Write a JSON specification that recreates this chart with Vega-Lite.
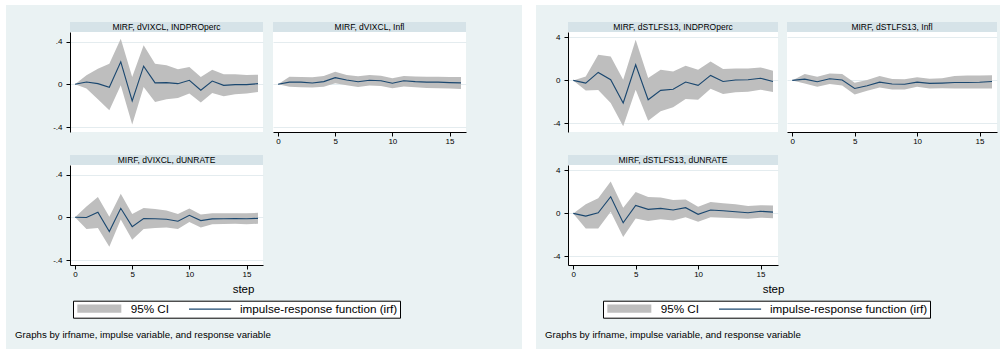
{
  "$schema": "https://vega.github.io/schema/vega-lite/v6.json",
  "background": "#EAF2F3",
  "padding": 0,
  "columns": 13,
  "spacing": 0,
  "bounds": "flush",
  "align": "each",
  "resolve": {"scale": {"fill": "independent", "stroke": "independent"}, "legend": {"fill": "independent", "stroke": "independent"}},
  "config": {
    "view": {"stroke": null},
    "font": "Liberation Sans",
    "axis": {"labelFont": "Liberation Sans", "titleFont": "Liberation Sans"},
    "legend": {"labelFont": "Liberation Sans", "titleFont": "Liberation Sans"},
    "title": {"font": "Liberation Sans"}
  },
  "datasets": {
    "vixIndpro": [
      {"step": 0, "irf": 0, "lo": 0, "hi": 0},
      {"step": 1, "irf": 0.022, "lo": -0.04, "hi": 0.084},
      {"step": 2, "irf": 0.006, "lo": -0.14, "hi": 0.146},
      {"step": 3, "irf": -0.028, "lo": -0.243, "hi": 0.193},
      {"step": 4, "irf": 0.21, "lo": -0.01, "hi": 0.426},
      {"step": 5, "irf": -0.156, "lo": -0.377, "hi": 0.068},
      {"step": 6, "irf": 0.17, "lo": -0.025, "hi": 0.364},
      {"step": 7, "irf": 0.013, "lo": -0.165, "hi": 0.193},
      {"step": 8, "irf": 0.016, "lo": -0.14, "hi": 0.177},
      {"step": 9, "irf": 0.006, "lo": -0.128, "hi": 0.14},
      {"step": 10, "irf": 0.037, "lo": -0.087, "hi": 0.162},
      {"step": 11, "irf": -0.056, "lo": -0.171, "hi": 0.068},
      {"step": 12, "irf": 0.03, "lo": -0.081, "hi": 0.137},
      {"step": 13, "irf": -0.01, "lo": -0.112, "hi": 0.093},
      {"step": 14, "irf": -0.003, "lo": -0.093, "hi": 0.093},
      {"step": 15, "irf": -0.003, "lo": -0.087, "hi": 0.087},
      {"step": 16, "irf": 0.006, "lo": -0.072, "hi": 0.09}
    ],
    "vixInfl": [
      {"step": 0, "irf": 0, "lo": 0, "hi": 0},
      {"step": 1, "irf": 0.02, "lo": -0.022, "hi": 0.07},
      {"step": 2, "irf": 0.02, "lo": -0.027, "hi": 0.068},
      {"step": 3, "irf": 0.012, "lo": -0.03, "hi": 0.065},
      {"step": 4, "irf": 0.025, "lo": -0.024, "hi": 0.077},
      {"step": 5, "irf": 0.062, "lo": 0.01, "hi": 0.118},
      {"step": 6, "irf": 0.04, "lo": -0.01, "hi": 0.088},
      {"step": 7, "irf": 0.024, "lo": -0.025, "hi": 0.076},
      {"step": 8, "irf": 0.038, "lo": -0.012, "hi": 0.088},
      {"step": 9, "irf": 0.033, "lo": -0.016, "hi": 0.08},
      {"step": 10, "irf": 0.01, "lo": -0.036, "hi": 0.056},
      {"step": 11, "irf": 0.033, "lo": -0.02, "hi": 0.077},
      {"step": 12, "irf": 0.025, "lo": -0.028, "hi": 0.072},
      {"step": 13, "irf": 0.02, "lo": -0.034, "hi": 0.07},
      {"step": 14, "irf": 0.02, "lo": -0.036, "hi": 0.07},
      {"step": 15, "irf": 0.016, "lo": -0.04, "hi": 0.068},
      {"step": 16, "irf": 0.013, "lo": -0.045, "hi": 0.068}
    ],
    "vixUnrate": [
      {"step": 0, "irf": 0, "lo": 0, "hi": 0},
      {"step": 1, "irf": -0.002, "lo": -0.11, "hi": 0.1},
      {"step": 2, "irf": 0.047, "lo": -0.1, "hi": 0.19},
      {"step": 3, "irf": -0.133, "lo": -0.275, "hi": 0.005},
      {"step": 4, "irf": 0.084, "lo": -0.02, "hi": 0.22},
      {"step": 5, "irf": -0.087, "lo": -0.21, "hi": 0.03},
      {"step": 6, "irf": -0.012, "lo": -0.11, "hi": 0.087},
      {"step": 7, "irf": -0.014, "lo": -0.1, "hi": 0.077},
      {"step": 8, "irf": -0.018, "lo": -0.095, "hi": 0.063},
      {"step": 9, "irf": -0.037, "lo": -0.11, "hi": 0.03},
      {"step": 10, "irf": 0.019, "lo": -0.045, "hi": 0.083},
      {"step": 11, "irf": -0.031, "lo": -0.095, "hi": 0.027},
      {"step": 12, "irf": -0.015, "lo": -0.065, "hi": 0.037},
      {"step": 13, "irf": -0.014, "lo": -0.062, "hi": 0.037},
      {"step": 14, "irf": -0.011, "lo": -0.06, "hi": 0.037},
      {"step": 15, "irf": -0.013, "lo": -0.065, "hi": 0.037},
      {"step": 16, "irf": -0.01, "lo": -0.06, "hi": 0.042}
    ],
    "stlIndpro": [
      {"step": 0, "irf": 0, "lo": 0, "hi": 0},
      {"step": 1, "irf": -0.25, "lo": -0.93, "hi": 0.37},
      {"step": 2, "irf": 0.74, "lo": -0.9, "hi": 2.38},
      {"step": 3, "irf": 0.06, "lo": -2.1, "hi": 2.22},
      {"step": 4, "irf": -2.1, "lo": -4.26, "hi": 0.06},
      {"step": 5, "irf": 1.45, "lo": -0.86, "hi": 3.77},
      {"step": 6, "irf": -1.8, "lo": -3.74, "hi": 0.22},
      {"step": 7, "irf": -0.93, "lo": -2.87, "hi": 0.99},
      {"step": 8, "irf": -0.83, "lo": -2.5, "hi": 0.83},
      {"step": 9, "irf": -0.15, "lo": -1.73, "hi": 1.36},
      {"step": 10, "irf": -0.46, "lo": -1.8, "hi": 0.99},
      {"step": 11, "irf": 0.46, "lo": -0.77, "hi": 1.76},
      {"step": 12, "irf": -0.1, "lo": -1.27, "hi": 1.05},
      {"step": 13, "irf": 0.03, "lo": -1.1, "hi": 1.1},
      {"step": 14, "irf": 0.06, "lo": -1.05, "hi": 1.1},
      {"step": 15, "irf": 0.2, "lo": -0.86, "hi": 1.2},
      {"step": 16, "irf": -0.1, "lo": -1.08, "hi": 0.9}
    ],
    "stlInfl": [
      {"step": 0, "irf": 0, "lo": 0, "hi": 0},
      {"step": 1, "irf": 0.12, "lo": -0.28, "hi": 0.6},
      {"step": 2, "irf": -0.12, "lo": -0.6, "hi": 0.34},
      {"step": 3, "irf": 0.15, "lo": -0.34, "hi": 0.65},
      {"step": 4, "irf": 0.03, "lo": -0.47, "hi": 0.6},
      {"step": 5, "irf": -0.75, "lo": -1.3, "hi": -0.22},
      {"step": 6, "irf": -0.5, "lo": -0.97, "hi": 0.03},
      {"step": 7, "irf": -0.16, "lo": -0.66, "hi": 0.4},
      {"step": 8, "irf": -0.34, "lo": -0.84, "hi": 0.12},
      {"step": 9, "irf": -0.36, "lo": -0.84, "hi": 0.1},
      {"step": 10, "irf": -0.16, "lo": -0.6, "hi": 0.28},
      {"step": 11, "irf": -0.28, "lo": -0.75, "hi": 0.15},
      {"step": 12, "irf": -0.25, "lo": -0.72, "hi": 0.2},
      {"step": 13, "irf": -0.2, "lo": -0.75, "hi": 0.4},
      {"step": 14, "irf": -0.2, "lo": -0.75, "hi": 0.45},
      {"step": 15, "irf": -0.18, "lo": -0.75, "hi": 0.45},
      {"step": 16, "irf": -0.1, "lo": -0.75, "hi": 0.47}
    ],
    "stlUnrate": [
      {"step": 0, "irf": 0, "lo": 0, "hi": 0},
      {"step": 1, "irf": -0.25, "lo": -1.4, "hi": 0.84},
      {"step": 2, "irf": 0.06, "lo": -1.4, "hi": 1.4},
      {"step": 3, "irf": 1.55, "lo": 0.15, "hi": 2.95},
      {"step": 4, "irf": -0.87, "lo": -2.2, "hi": 0.53},
      {"step": 5, "irf": 0.74, "lo": -0.47, "hi": 1.98},
      {"step": 6, "irf": 0.37, "lo": -0.71, "hi": 1.52},
      {"step": 7, "irf": 0.46, "lo": -0.55, "hi": 1.48},
      {"step": 8, "irf": 0.31, "lo": -0.65, "hi": 1.24},
      {"step": 9, "irf": 0.53, "lo": -0.35, "hi": 1.3},
      {"step": 10, "irf": -0.09, "lo": -0.78, "hi": 0.62},
      {"step": 11, "irf": 0.31, "lo": -0.37, "hi": 1.05},
      {"step": 12, "irf": 0.25, "lo": -0.4, "hi": 0.95},
      {"step": 13, "irf": 0.15, "lo": -0.45, "hi": 0.85},
      {"step": 14, "irf": 0.06, "lo": -0.5, "hi": 0.68},
      {"step": 15, "irf": 0.2, "lo": -0.4, "hi": 0.75},
      {"step": 16, "irf": 0.12, "lo": -0.45, "hi": 0.74}
    ]
  },
  "concat": [
    {"width": 6, "height": 5, "data": {"values": []}, "mark": "point", "view": {"fill": "#FFFFFF"}},
    {"width": 64, "height": 5, "data": {"values": []}, "mark": "point", "view": {"fill": "#FFFFFF"}},
    {"width": 193, "height": 5, "data": {"values": []}, "mark": "point", "view": {"fill": "#FFFFFF"}},
    {"width": 10, "height": 5, "data": {"values": []}, "mark": "point", "view": {"fill": "#FFFFFF"}},
    {"width": 193, "height": 5, "data": {"values": []}, "mark": "point", "view": {"fill": "#FFFFFF"}},
    {"width": 56, "height": 5, "data": {"values": []}, "mark": "point", "view": {"fill": "#FFFFFF"}},
    {"width": 14, "height": 5, "data": {"values": []}, "mark": "point", "view": {"fill": "#FFFFFF"}},
    {"width": 32, "height": 5, "data": {"values": []}, "mark": "point", "view": {"fill": "#FFFFFF"}},
    {"width": 210, "height": 5, "data": {"values": []}, "mark": "point", "view": {"fill": "#FFFFFF"}},
    {"width": 9, "height": 5, "data": {"values": []}, "mark": "point", "view": {"fill": "#FFFFFF"}},
    {"width": 210, "height": 5, "data": {"values": []}, "mark": "point", "view": {"fill": "#FFFFFF"}},
    {"width": 3, "height": 5, "data": {"values": []}, "mark": "point", "view": {"fill": "#FFFFFF"}},
    {"width": 4, "height": 5, "data": {"values": []}, "mark": "point", "view": {"fill": "#FFFFFF"}},

    {"width": 6, "height": 17, "data": {"values": []}, "mark": "point", "view": {"fill": "#FFFFFF"}},
    {"width": 64, "height": 17, "data": {"values": []}, "mark": "point"},
    {"width": 193, "height": 17, "data": {"values": []}, "mark": "point"},
    {"width": 10, "height": 17, "data": {"values": []}, "mark": "point"},
    {"width": 193, "height": 17, "data": {"values": []}, "mark": "point"},
    {"width": 56, "height": 17, "data": {"values": []}, "mark": "point"},
    {"width": 14, "height": 17, "data": {"values": []}, "mark": "point", "view": {"fill": "#FFFFFF"}},
    {"width": 32, "height": 17, "data": {"values": []}, "mark": "point"},
    {"width": 210, "height": 17, "data": {"values": []}, "mark": "point"},
    {"width": 9, "height": 17, "data": {"values": []}, "mark": "point"},
    {"width": 210, "height": 17, "data": {"values": []}, "mark": "point"},
    {"width": 3, "height": 17, "data": {"values": []}, "mark": "point"},
    {"width": 4, "height": 17, "data": {"values": []}, "mark": "point", "view": {"fill": "#FFFFFF"}},

    {"width": 6, "height": 10, "data": {"values": []}, "mark": "point", "view": {"fill": "#FFFFFF"}},
    {"width": 64, "height": 10, "data": {"values": []}, "mark": "point"},
    {"width": 193, "height": 10, "view": {"fill": "#D6E3E8"}, "data": {"values": [{"label": "MIRF, dVIXCL, INDPROperc"}]}, "mark": {"type": "text", "font": "Liberation Sans", "fontSize": 8.5, "color": "#000000", "baseline": "middle", "align": "center"}, "encoding": {"text": {"field": "label", "type": "nominal"}}},
    {"width": 10, "height": 10, "data": {"values": []}, "mark": "point"},
    {"width": 193, "height": 10, "view": {"fill": "#D6E3E8"}, "data": {"values": [{"label": "MIRF, dVIXCL, Infl"}]}, "mark": {"type": "text", "font": "Liberation Sans", "fontSize": 8.5, "color": "#000000", "baseline": "middle", "align": "center"}, "encoding": {"text": {"field": "label", "type": "nominal"}}},
    {"width": 56, "height": 10, "data": {"values": []}, "mark": "point"},
    {"width": 14, "height": 10, "data": {"values": []}, "mark": "point", "view": {"fill": "#FFFFFF"}},
    {"width": 32, "height": 10, "data": {"values": []}, "mark": "point"},
    {"width": 210, "height": 10, "view": {"fill": "#D6E3E8"}, "data": {"values": [{"label": "MIRF, dSTLFS13, INDPROperc"}]}, "mark": {"type": "text", "font": "Liberation Sans", "fontSize": 8.5, "color": "#000000", "baseline": "middle", "align": "center"}, "encoding": {"text": {"field": "label", "type": "nominal"}}},
    {"width": 9, "height": 10, "data": {"values": []}, "mark": "point"},
    {"width": 210, "height": 10, "view": {"fill": "#D6E3E8"}, "data": {"values": [{"label": "MIRF, dSTLFS13, Infl"}]}, "mark": {"type": "text", "font": "Liberation Sans", "fontSize": 8.5, "color": "#000000", "baseline": "middle", "align": "center"}, "encoding": {"text": {"field": "label", "type": "nominal"}}},
    {"width": 3, "height": 10, "data": {"values": []}, "mark": "point"},
    {"width": 4, "height": 10, "data": {"values": []}, "mark": "point", "view": {"fill": "#FFFFFF"}},

    {"width": 6, "height": 100, "data": {"values": []}, "mark": "point", "view": {"fill": "#FFFFFF"}},
    {"width": 64, "height": 100, "data": {"values": []}, "mark": "point"},
    {
      "width": 193, "height": 100, "view": {"fill": "#FFFFFF"},
      "data": {"name": "vixIndpro"},
      "encoding": {"x": {"field": "step", "type": "quantitative", "scale": {"domain": [-0.44, 16.44], "nice": false, "zero": false}, "axis": null}},
      "layer": [
        {"mark": {"type": "area", "opacity": 1},
         "encoding": {
           "y": {"field": "lo", "type": "quantitative", "scale": {"domain": [-0.446, 0.489], "nice": false, "zero": false},
                 "axis": {"title": null, "values": [-0.4, -0.2, 0, 0.2, 0.4], "labelExpr": "datum.value == 0 ? '0' : (datum.value < 0 ? '-' : '') + '.' + toString(round(abs(datum.value) * 10))", "grid": true, "gridColor": "#E4ECEF", "domainColor": "#000000", "tickColor": "#000000", "tickSize": 4, "labelFontSize": 8, "labelColor": "#000000", "labelPadding": 4, "labelFlush": false}},
           "y2": {"field": "hi"},
           "fill": {"datum": "95% CI", "type": "nominal", "scale": {"domain": ["95% CI"], "range": ["#BEBEBE"]}, "legend": null}}},
        {"mark": {"type": "line", "strokeWidth": 1.1},
         "encoding": {"y": {"field": "irf", "type": "quantitative"}, "stroke": {"datum": "impulse-response function (irf)", "type": "nominal", "scale": {"domain": ["impulse-response function (irf)"], "range": ["#1A476F"]}, "legend": null}}}
      ]
    },
    {"width": 10, "height": 100, "data": {"values": []}, "mark": "point"},
    {
      "width": 193, "height": 100, "view": {"fill": "#FFFFFF"},
      "data": {"name": "vixInfl"},
      "encoding": {"x": {"field": "step", "type": "quantitative", "scale": {"domain": [-0.44, 16.44], "nice": false, "zero": false},
                         "axis": {"title": null, "values": [0, 5, 10, 15], "format": "d", "grid": false, "domainColor": "#000000", "tickColor": "#000000", "tickSize": 4, "labelFontSize": 8, "labelColor": "#000000", "labelPadding": 1, "labelFlush": false}}},
      "layer": [
        {"mark": {"type": "area", "opacity": 1},
         "encoding": {
           "y": {"field": "lo", "type": "quantitative", "scale": {"domain": [-0.446, 0.489], "nice": false, "zero": false},
                 "axis": {"title": null, "values": [-0.4, -0.2, 0, 0.2, 0.4], "grid": true, "gridColor": "#E4ECEF", "labels": false, "ticks": false, "domain": false}},
           "y2": {"field": "hi"},
           "fill": {"datum": "95% CI", "type": "nominal", "scale": {"domain": ["95% CI"], "range": ["#BEBEBE"]}, "legend": null}}},
        {"mark": {"type": "line", "strokeWidth": 1.1},
         "encoding": {"y": {"field": "irf", "type": "quantitative"}, "stroke": {"datum": "impulse-response function (irf)", "type": "nominal", "scale": {"domain": ["impulse-response function (irf)"], "range": ["#1A476F"]}, "legend": null}}}
      ]
    },
    {"width": 56, "height": 100, "data": {"values": []}, "mark": "point"},
    {"width": 14, "height": 100, "data": {"values": []}, "mark": "point", "view": {"fill": "#FFFFFF"}},
    {"width": 32, "height": 100, "data": {"values": []}, "mark": "point"},
    {
      "width": 210, "height": 100, "view": {"fill": "#FFFFFF"},
      "data": {"name": "stlIndpro"},
      "encoding": {"x": {"field": "step", "type": "quantitative", "scale": {"domain": [-0.42, 16.4], "nice": false, "zero": false}, "axis": null}},
      "layer": [
        {"mark": {"type": "area", "opacity": 1},
         "encoding": {
           "y": {"field": "lo", "type": "quantitative", "scale": {"domain": [-4.79, 4.49], "nice": false, "zero": false},
                 "axis": {"title": null, "values": [-4, -2, 0, 2, 4], "labelExpr": "(datum.value < 0 ? '-' : '') + toString(abs(datum.value))", "grid": true, "gridColor": "#E4ECEF", "domainColor": "#000000", "tickColor": "#000000", "tickSize": 4, "labelFontSize": 8, "labelColor": "#000000", "labelPadding": 4, "labelFlush": false}},
           "y2": {"field": "hi"},
           "fill": {"datum": "95% CI", "type": "nominal", "scale": {"domain": ["95% CI"], "range": ["#BEBEBE"]}, "legend": null}}},
        {"mark": {"type": "line", "strokeWidth": 1.1},
         "encoding": {"y": {"field": "irf", "type": "quantitative"}, "stroke": {"datum": "impulse-response function (irf)", "type": "nominal", "scale": {"domain": ["impulse-response function (irf)"], "range": ["#1A476F"]}, "legend": null}}}
      ]
    },
    {"width": 9, "height": 100, "data": {"values": []}, "mark": "point"},
    {
      "width": 210, "height": 100, "view": {"fill": "#FFFFFF"},
      "data": {"name": "stlInfl"},
      "encoding": {"x": {"field": "step", "type": "quantitative", "scale": {"domain": [-0.42, 16.4], "nice": false, "zero": false},
                         "axis": {"title": null, "values": [0, 5, 10, 15], "format": "d", "grid": false, "domainColor": "#000000", "tickColor": "#000000", "tickSize": 4, "labelFontSize": 8, "labelColor": "#000000", "labelPadding": 1, "labelFlush": false}}},
      "layer": [
        {"mark": {"type": "area", "opacity": 1},
         "encoding": {
           "y": {"field": "lo", "type": "quantitative", "scale": {"domain": [-4.79, 4.49], "nice": false, "zero": false},
                 "axis": {"title": null, "values": [-4, -2, 0, 2, 4], "grid": true, "gridColor": "#E4ECEF", "labels": false, "ticks": false, "domain": false}},
           "y2": {"field": "hi"},
           "fill": {"datum": "95% CI", "type": "nominal", "scale": {"domain": ["95% CI"], "range": ["#BEBEBE"]}, "legend": null}}},
        {"mark": {"type": "line", "strokeWidth": 1.1},
         "encoding": {"y": {"field": "irf", "type": "quantitative"}, "stroke": {"datum": "impulse-response function (irf)", "type": "nominal", "scale": {"domain": ["impulse-response function (irf)"], "range": ["#1A476F"]}, "legend": null}}}
      ]
    },
    {"width": 3, "height": 100, "data": {"values": []}, "mark": "point"},
    {"width": 4, "height": 100, "data": {"values": []}, "mark": "point", "view": {"fill": "#FFFFFF"}},

    {"width": 6, "height": 23, "data": {"values": []}, "mark": "point", "view": {"fill": "#FFFFFF"}},
    {"width": 64, "height": 23, "data": {"values": []}, "mark": "point"},
    {"width": 193, "height": 23, "data": {"values": []}, "mark": "point"},
    {"width": 10, "height": 23, "data": {"values": []}, "mark": "point"},
    {"width": 193, "height": 23, "data": {"values": []}, "mark": "point"},
    {"width": 56, "height": 23, "data": {"values": []}, "mark": "point"},
    {"width": 14, "height": 23, "data": {"values": []}, "mark": "point", "view": {"fill": "#FFFFFF"}},
    {"width": 32, "height": 23, "data": {"values": []}, "mark": "point"},
    {"width": 210, "height": 23, "data": {"values": []}, "mark": "point"},
    {"width": 9, "height": 23, "data": {"values": []}, "mark": "point"},
    {"width": 210, "height": 23, "data": {"values": []}, "mark": "point"},
    {"width": 3, "height": 23, "data": {"values": []}, "mark": "point"},
    {"width": 4, "height": 23, "data": {"values": []}, "mark": "point", "view": {"fill": "#FFFFFF"}},

    {"width": 6, "height": 10, "data": {"values": []}, "mark": "point", "view": {"fill": "#FFFFFF"}},
    {"width": 64, "height": 10, "data": {"values": []}, "mark": "point"},
    {"width": 193, "height": 10, "view": {"fill": "#D6E3E8"}, "data": {"values": [{"label": "MIRF, dVIXCL, dUNRATE"}]}, "mark": {"type": "text", "font": "Liberation Sans", "fontSize": 8.5, "color": "#000000", "baseline": "middle", "align": "center"}, "encoding": {"text": {"field": "label", "type": "nominal"}}},
    {"width": 10, "height": 10, "data": {"values": []}, "mark": "point"},
    {"width": 193, "height": 10, "data": {"values": []}, "mark": "point"},
    {"width": 56, "height": 10, "data": {"values": []}, "mark": "point"},
    {"width": 14, "height": 10, "data": {"values": []}, "mark": "point", "view": {"fill": "#FFFFFF"}},
    {"width": 32, "height": 10, "data": {"values": []}, "mark": "point"},
    {"width": 210, "height": 10, "view": {"fill": "#D6E3E8"}, "data": {"values": [{"label": "MIRF, dSTLFS13, dUNRATE"}]}, "mark": {"type": "text", "font": "Liberation Sans", "fontSize": 8.5, "color": "#000000", "baseline": "middle", "align": "center"}, "encoding": {"text": {"field": "label", "type": "nominal"}}},
    {"width": 9, "height": 10, "data": {"values": []}, "mark": "point"},
    {"width": 210, "height": 10, "data": {"values": []}, "mark": "point"},
    {"width": 3, "height": 10, "data": {"values": []}, "mark": "point"},
    {"width": 4, "height": 10, "data": {"values": []}, "mark": "point", "view": {"fill": "#FFFFFF"}},

    {"width": 6, "height": 100, "data": {"values": []}, "mark": "point", "view": {"fill": "#FFFFFF"}},
    {"width": 64, "height": 100, "data": {"values": []}, "mark": "point"},
    {
      "width": 193, "height": 100, "view": {"fill": "#FFFFFF"},
      "data": {"name": "vixUnrate"},
      "encoding": {"x": {"field": "step", "type": "quantitative", "scale": {"domain": [-0.44, 16.44], "nice": false, "zero": false},
                         "axis": {"title": "step", "titleX": 173, "titleY": 24, "titleBaseline": "middle", "titleAlign": "center", "titleFontSize": 11.5, "titleFontWeight": "normal", "titleColor": "#000000",
                                  "values": [0, 5, 10, 15], "format": "d", "grid": false, "domainColor": "#000000", "tickColor": "#000000", "tickSize": 4, "labelFontSize": 8, "labelColor": "#000000", "labelPadding": 1, "labelFlush": false}}},
      "layer": [
        {"mark": {"type": "area", "opacity": 1},
         "encoding": {
           "y": {"field": "lo", "type": "quantitative", "scale": {"domain": [-0.446, 0.489], "nice": false, "zero": false},
                 "axis": {"title": null, "values": [-0.4, -0.2, 0, 0.2, 0.4], "labelExpr": "datum.value == 0 ? '0' : (datum.value < 0 ? '-' : '') + '.' + toString(round(abs(datum.value) * 10))", "grid": true, "gridColor": "#E4ECEF", "domainColor": "#000000", "tickColor": "#000000", "tickSize": 4, "labelFontSize": 8, "labelColor": "#000000", "labelPadding": 4, "labelFlush": false}},
           "y2": {"field": "hi"},
           "fill": {"datum": "95% CI", "type": "nominal", "scale": {"domain": ["95% CI"], "range": ["#BEBEBE"]},
                    "legend": {"orient": "none", "legendX": 3, "legendY": 135.7, "direction": "horizontal",
                               "title": "impulse-response function (irf)", "titleOrient": "right", "titlePadding": 71, "titleAnchor": "middle", "titleBaseline": "middle",
                               "titleFontSize": 11.7, "titleFontWeight": "normal", "titleColor": "#000000", "titleLimit": 400,
                               "strokeColor": "#000000", "fillColor": "#FFFFFF", "padding": 2, "cornerRadius": 0,
                               "symbolType": "M-0.64,-0.75H7.36V0.75H-0.64Z", "symbolSize": 121, "symbolStrokeWidth": 0, "symbolOpacity": 1,
                               "labelOffset": 44, "labelFontSize": 11.7, "labelColor": "#000000", "labelLimit": 400}}}},
        {"mark": {"type": "line", "strokeWidth": 1.1},
         "encoding": {"y": {"field": "irf", "type": "quantitative"},
                      "stroke": {"datum": "impulse-response function (irf)", "type": "nominal", "scale": {"domain": ["impulse-response function (irf)"], "range": ["#1A476F"]},
                                 "legend": {"orient": "none", "legendX": 115, "legendY": 137.7, "title": null, "padding": 0, "zindex": 1,
                                            "symbolType": "M-0.45,0H7.2", "symbolSize": 121, "symbolStrokeWidth": 1.2, "symbolOpacity": 1,
                                            "labelExpr": "''"}}}}
      ]
    },
    {"width": 10, "height": 100, "data": {"values": []}, "mark": "point"},
    {"width": 193, "height": 100, "data": {"values": []}, "mark": "point"},
    {"width": 56, "height": 100, "data": {"values": []}, "mark": "point"},
    {"width": 14, "height": 100, "data": {"values": []}, "mark": "point", "view": {"fill": "#FFFFFF"}},
    {"width": 32, "height": 100, "data": {"values": []}, "mark": "point"},
    {
      "width": 210, "height": 100, "view": {"fill": "#FFFFFF"},
      "data": {"name": "stlUnrate"},
      "encoding": {"x": {"field": "step", "type": "quantitative", "scale": {"domain": [-0.42, 16.4], "nice": false, "zero": false},
                         "axis": {"title": "step", "titleX": 205, "titleY": 24, "titleBaseline": "middle", "titleAlign": "center", "titleFontSize": 11.5, "titleFontWeight": "normal", "titleColor": "#000000",
                                  "values": [0, 5, 10, 15], "format": "d", "grid": false, "domainColor": "#000000", "tickColor": "#000000", "tickSize": 4, "labelFontSize": 8, "labelColor": "#000000", "labelPadding": 1, "labelFlush": false}}},
      "layer": [
        {"mark": {"type": "area", "opacity": 1},
         "encoding": {
           "y": {"field": "lo", "type": "quantitative", "scale": {"domain": [-4.79, 4.49], "nice": false, "zero": false},
                 "axis": {"title": null, "values": [-4, -2, 0, 2, 4], "labelExpr": "(datum.value < 0 ? '-' : '') + toString(abs(datum.value))", "grid": true, "gridColor": "#E4ECEF", "domainColor": "#000000", "tickColor": "#000000", "tickSize": 4, "labelFontSize": 8, "labelColor": "#000000", "labelPadding": 4, "labelFlush": false}},
           "y2": {"field": "hi"},
           "fill": {"datum": "95% CI", "type": "nominal", "scale": {"domain": ["95% CI"], "range": ["#BEBEBE"]},
                    "legend": {"orient": "none", "legendX": 35, "legendY": 135.7, "direction": "horizontal",
                               "title": "impulse-response function (irf)", "titleOrient": "right", "titlePadding": 71, "titleAnchor": "middle", "titleBaseline": "middle",
                               "titleFontSize": 11.7, "titleFontWeight": "normal", "titleColor": "#000000", "titleLimit": 400,
                               "strokeColor": "#000000", "fillColor": "#FFFFFF", "padding": 2, "cornerRadius": 0,
                               "symbolType": "M-0.64,-0.75H7.36V0.75H-0.64Z", "symbolSize": 121, "symbolStrokeWidth": 0, "symbolOpacity": 1,
                               "labelOffset": 44, "labelFontSize": 11.7, "labelColor": "#000000", "labelLimit": 400}}}},
        {"mark": {"type": "line", "strokeWidth": 1.1},
         "encoding": {"y": {"field": "irf", "type": "quantitative"},
                      "stroke": {"datum": "impulse-response function (irf)", "type": "nominal", "scale": {"domain": ["impulse-response function (irf)"], "range": ["#1A476F"]},
                                 "legend": {"orient": "none", "legendX": 147, "legendY": 137.7, "title": null, "padding": 0, "zindex": 1,
                                            "symbolType": "M-0.45,0H7.2", "symbolSize": 121, "symbolStrokeWidth": 1.2, "symbolOpacity": 1,
                                            "labelExpr": "''"}}}}
      ]
    },
    {"width": 9, "height": 100, "data": {"values": []}, "mark": "point"},
    {"width": 210, "height": 100, "data": {"values": []}, "mark": "point"},
    {"width": 3, "height": 100, "data": {"values": []}, "mark": "point"},
    {"width": 4, "height": 100, "data": {"values": []}, "mark": "point", "view": {"fill": "#FFFFFF"}},

    {"width": 6, "height": 84, "data": {"values": []}, "mark": "point", "view": {"fill": "#FFFFFF"}},
    {"width": 64, "height": 84, "data": {"values": []}, "mark": "point",
     "title": {"text": "Graphs by irfname, impulse variable, and response variable", "orient": "bottom", "anchor": "start", "frame": "group", "offset": -19.5, "dx": 9, "fontSize": 9.7, "fontWeight": "normal", "color": "#000000"}},
    {"width": 193, "height": 84, "data": {"values": []}, "mark": "point"},
    {"width": 10, "height": 84, "data": {"values": []}, "mark": "point"},
    {"width": 193, "height": 84, "data": {"values": []}, "mark": "point"},
    {"width": 56, "height": 84, "data": {"values": []}, "mark": "point"},
    {"width": 14, "height": 84, "data": {"values": []}, "mark": "point", "view": {"fill": "#FFFFFF"}},
    {"width": 32, "height": 84, "data": {"values": []}, "mark": "point",
     "title": {"text": "Graphs by irfname, impulse variable, and response variable", "orient": "bottom", "anchor": "start", "frame": "group", "offset": -19.5, "dx": 9, "fontSize": 9.7, "fontWeight": "normal", "color": "#000000"}},
    {"width": 210, "height": 84, "data": {"values": []}, "mark": "point"},
    {"width": 9, "height": 84, "data": {"values": []}, "mark": "point"},
    {"width": 210, "height": 84, "data": {"values": []}, "mark": "point"},
    {"width": 3, "height": 84, "data": {"values": []}, "mark": "point"},
    {"width": 4, "height": 84, "data": {"values": []}, "mark": "point", "view": {"fill": "#FFFFFF"}},

    {"width": 6, "height": 5, "data": {"values": []}, "mark": "point", "view": {"fill": "#FFFFFF"}},
    {"width": 64, "height": 5, "data": {"values": []}, "mark": "point", "view": {"fill": "#FFFFFF"}},
    {"width": 193, "height": 5, "data": {"values": []}, "mark": "point", "view": {"fill": "#FFFFFF"}},
    {"width": 10, "height": 5, "data": {"values": []}, "mark": "point", "view": {"fill": "#FFFFFF"}},
    {"width": 193, "height": 5, "data": {"values": []}, "mark": "point", "view": {"fill": "#FFFFFF"}},
    {"width": 56, "height": 5, "data": {"values": []}, "mark": "point", "view": {"fill": "#FFFFFF"}},
    {"width": 14, "height": 5, "data": {"values": []}, "mark": "point", "view": {"fill": "#FFFFFF"}},
    {"width": 32, "height": 5, "data": {"values": []}, "mark": "point", "view": {"fill": "#FFFFFF"}},
    {"width": 210, "height": 5, "data": {"values": []}, "mark": "point", "view": {"fill": "#FFFFFF"}},
    {"width": 9, "height": 5, "data": {"values": []}, "mark": "point", "view": {"fill": "#FFFFFF"}},
    {"width": 210, "height": 5, "data": {"values": []}, "mark": "point", "view": {"fill": "#FFFFFF"}},
    {"width": 3, "height": 5, "data": {"values": []}, "mark": "point", "view": {"fill": "#FFFFFF"}},
    {"width": 4, "height": 5, "data": {"values": []}, "mark": "point", "view": {"fill": "#FFFFFF"}}
  ]
}
